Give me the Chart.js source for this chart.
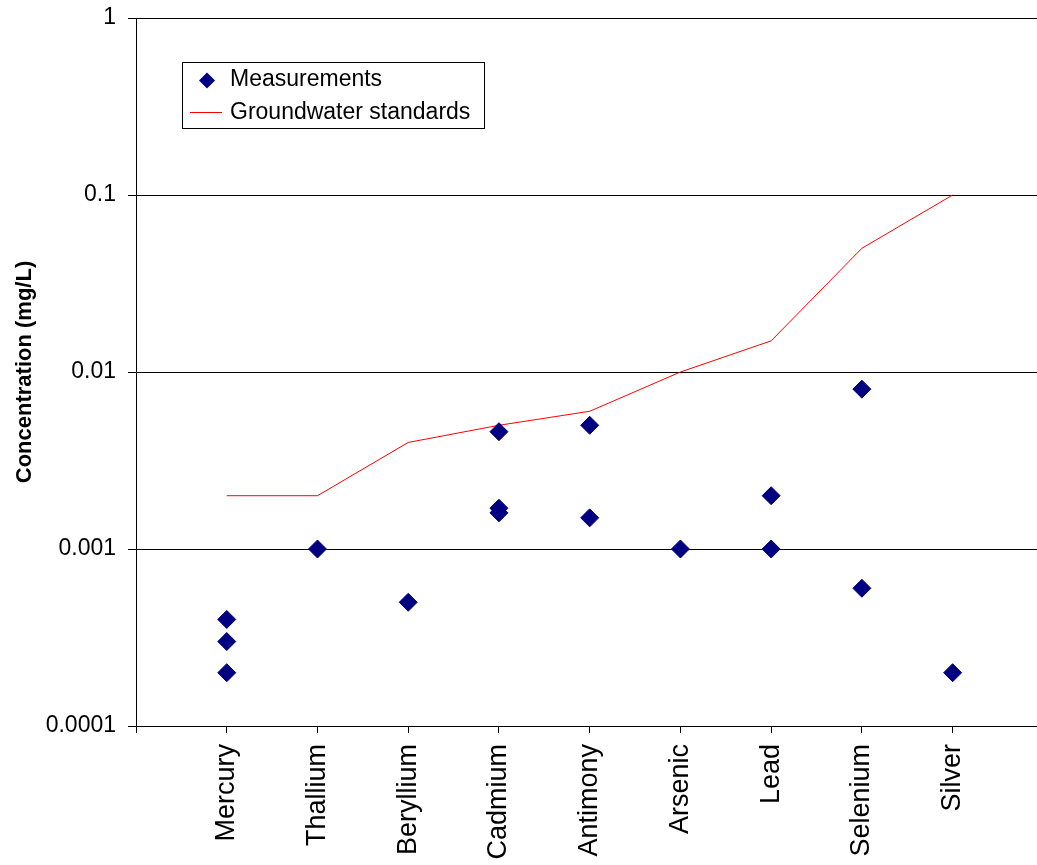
<!DOCTYPE html>
<html>
<head>
<meta charset="utf-8">
<title>Metal concentrations vs groundwater standards</title>
<script src="https://cdn.jsdelivr.net/npm/chart.js@4/dist/chart.umd.min.js"></script>
<style>
  html, body { margin: 0; padding: 0; background: #ffffff; }
  #wrap { width: 1037px; height: 865px; position: relative; }
</style>
</head>
<body>
<div id="wrap"><canvas id="chart"></canvas></div>
<script>
// Metals, in the order they are plotted along the horizontal axis
const metals = ['Mercury', 'Thallium', 'Beryllium', 'Cadmium', 'Antimony', 'Arsenic', 'Lead', 'Selenium', 'Silver'];

// Measured concentrations (mg/L), one list per metal
const mercuryMeasured   = [0.0004, 0.0003, 0.0002];
const thalliumMeasured  = [0.001];
const berylliumMeasured = [0.0005];
const cadmiumMeasured   = [0.0046, 0.0017, 0.0016];
const antimonyMeasured  = [0.005, 0.0015];
const arsenicMeasured   = [0.001];
const leadMeasured      = [0.002, 0.001];
const seleniumMeasured  = [0.008, 0.0006];
const silverMeasured    = [0.0002];

// Groundwater standard for each metal (mg/L)
const groundwaterStandards = [0.002, 0.002, 0.004, 0.005, 0.006, 0.01, 0.015, 0.05, 0.1];

// Decade ticks on the concentration axis
const yTickValues = [0.0001, 0.001, 0.01, 0.1, 1];
const yTickLabels = ['0.0001', '0.001', '0.01', '0.1', '1'];

const measuredByMetal = [
  mercuryMeasured, thalliumMeasured, berylliumMeasured, cadmiumMeasured,
  antimonyMeasured, arsenicMeasured, leadMeasured, seleniumMeasured, silverMeasured
];

// Metals sit at positions 1..9 on a linear x scale
const measurementPoints = [];
measuredByMetal.forEach((vals, i) => {
  vals.forEach(v => measurementPoints.push({ x: i + 1, y: v }));
});
const standardPoints = groundwaterStandards.map((v, i) => ({ x: i + 1, y: v }));

const NAVY = '#000080';
const RED = '#ff0000';
const FONT = "'Liberation Sans', Arial, Helvetica, sans-serif";

// Boxed legend drawn inside the plot area
const boxedLegend = {
  id: 'boxedLegend',
  afterDraw(chart) {
    const ctx = chart.ctx;
    const ds = chart.data.datasets;
    ctx.save();
    ctx.fillStyle = '#ffffff';
    ctx.fillRect(182, 62, 302, 66);
    ctx.strokeStyle = '#000000';
    ctx.lineWidth = 1;
    ctx.strokeRect(182.5, 62.5, 302, 66);

    // diamond marker
    ctx.fillStyle = NAVY;
    ctx.beginPath();
    ctx.moveTo(207, 72.5);
    ctx.lineTo(215, 80.5);
    ctx.lineTo(207, 88.5);
    ctx.lineTo(199, 80.5);
    ctx.closePath();
    ctx.fill();

    // line sample
    ctx.strokeStyle = RED;
    ctx.beginPath();
    ctx.moveTo(190, 112.5);
    ctx.lineTo(222, 112.5);
    ctx.stroke();

    ctx.fillStyle = '#000000';
    ctx.font = '23px ' + FONT;
    ctx.textBaseline = 'alphabetic';
    ctx.textAlign = 'left';
    ctx.fillText(ds[0].label, 230, 86);
    ctx.fillText(ds[1].label, 230, 119);
    ctx.restore();
  }
};

new Chart(document.getElementById('chart'), {
  type: 'scatter',
  data: {
    datasets: [
      {
        label: 'Measurements',
        data: measurementPoints,
        pointStyle: 'rectRot',
        pointRadius: 9,
        pointBackgroundColor: NAVY,
        pointBorderColor: NAVY,
        pointBorderWidth: 1,
        showLine: false,
        order: 1
      },
      {
        label: 'Groundwater standards',
        data: standardPoints,
        showLine: true,
        borderColor: RED,
        borderWidth: 1,
        pointRadius: 0,
        tension: 0,
        order: 2
      }
    ]
  },
  options: {
    responsive: true,
    maintainAspectRatio: false,
    animation: false,
    layout: { autoPadding: false, padding: { top: 18, left: 0, right: 0, bottom: 0 } },
    plugins: {
      legend: { display: false },
      tooltip: { enabled: false }
    },
    scales: {
      x: {
        type: 'linear',
        min: 0,
        max: 9.93,
        afterBuildTicks(scale) {
          scale.ticks = [0, 1, 2, 3, 4, 5, 6, 7, 8, 9].map(v => ({ value: v }));
        },
        afterFit(scale) {
          scale.height = 865 - 726;
          scale.paddingLeft = 0;
          scale.paddingRight = 0;
        },
        border: { display: true, color: '#000000', width: 1 },
        grid: {
          drawOnChartArea: false,
          drawTicks: true,
          tickLength: 7,
          color: '#000000'
        },
        ticks: {
          autoSkip: false,
          minRotation: 90,
          maxRotation: 90,
          padding: 11,
          color: '#000000',
          font: { family: FONT, size: 27 },
          callback: (v) => (v >= 1 && v <= metals.length ? metals[v - 1] : '')
        }
      },
      y: {
        type: 'logarithmic',
        min: 0.0001,
        max: 1,
        afterBuildTicks(scale) {
          scale.ticks = yTickValues.map(v => ({ value: v }));
        },
        afterFit(scale) {
          scale.width = 136;
          scale.paddingTop = 0;
          scale.paddingBottom = 0;
        },
        border: { display: true, color: '#000000', width: 1 },
        grid: {
          drawOnChartArea: true,
          drawTicks: true,
          tickLength: 8,
          color: '#000000'
        },
        ticks: {
          padding: 12,
          color: '#000000',
          font: { family: FONT, size: 23 },
          callback: (v) => {
            const i = yTickValues.findIndex(t => Math.abs(t - v) / t < 1e-6);
            return i >= 0 ? yTickLabels[i] : '';
          }
        },
        title: {
          display: true,
          text: 'Concentration (mg/L)',
          color: '#000000',
          font: { family: FONT, size: 22, weight: 'bold' },
          padding: { top: 12, bottom: 0 }
        }
      }
    }
  },
  plugins: [boxedLegend]
});
</script>
</body>
</html>
